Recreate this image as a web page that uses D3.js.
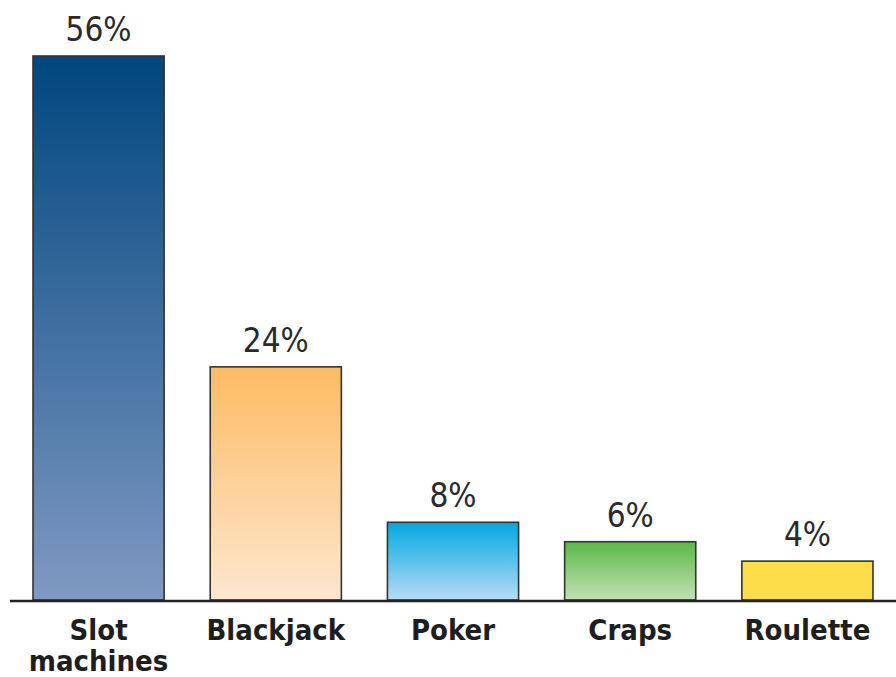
<!DOCTYPE html>
<html>
<head>
<meta charset="utf-8">
<script src="https://cdn.jsdelivr.net/npm/d3@7"></script>
<style>
  html, body { margin: 0; padding: 0; background: #fff; }
  svg { display: block; }
  .val { font-family: "DejaVu Sans", sans-serif; font-stretch: condensed; font-size: 33px; fill: #2a2a2a; }
  .cat { font-family: "DejaVu Sans", sans-serif; font-stretch: condensed; font-size: 29px; font-weight: bold; fill: #1e1e1e; }
</style>
</head>
<body>
<svg id="chart" width="896" height="677"></svg>
<script>
// Share of casino gaming by game
const categories = ["Slot machines", "Blackjack", "Poker", "Craps", "Roulette"];
const shares = [56, 24, 8, 6, 4];
const valueLabels = ["56%", "24%", "8%", "6%", "4%"];
// gradient stops per bar: top colour, bottom colour
const topColors = ["#00467f", "#fdbb63", "#00a8e2", "#5ab847", "#fedd4a"];
const bottomColors = ["#7f99c2", "#fde7cf", "#b7dcf5", "#c2e2b3", "#fedd4a"];

const svg = d3.select("#chart");

const x = d3.scaleBand()
  .domain(categories)
  .range([33, 873])
  .paddingInner(0.26)
  .paddingOuter(0);

const y = d3.scaleLinear()
  .domain([0, 56])
  .range([600, 56]);

const defs = svg.append("defs");
categories.forEach((c, i) => {
  const g = defs.append("linearGradient")
    .attr("id", "grad" + i)
    .attr("x1", 0).attr("y1", 0).attr("x2", 0).attr("y2", 1);
  g.append("stop").attr("offset", "0%").attr("stop-color", topColors[i]);
  g.append("stop").attr("offset", "100%").attr("stop-color", bottomColors[i]);
});

const data = categories.map((c, i) => ({ cat: c, v: shares[i], label: valueLabels[i], i }));

svg.selectAll("rect.bar")
  .data(data)
  .join("rect")
  .attr("class", "bar")
  .attr("x", d => x(d.cat))
  .attr("y", d => y(d.v))
  .attr("width", x.bandwidth())
  .attr("height", d => y(0) - y(d.v))
  .attr("fill", d => `url(#grad${d.i})`)
  .attr("stroke", "#333")
  .attr("stroke-width", 1.6);

// baseline axis
const axis = d3.axisBottom(x).tickSize(0).tickFormat("");
const gAxis = svg.append("g")
  .attr("transform", `translate(0,${y(0) + 1})`)
  .call(axis);
gAxis.select(".domain").remove();
gAxis.append("line")
  .attr("x1", 10).attr("x2", 896)
  .attr("stroke", "#222").attr("stroke-width", 2.5);

// value labels above bars
svg.selectAll("text.val")
  .data(data)
  .join("text")
  .attr("class", "val")
  .attr("text-anchor", "middle")
  .attr("x", d => x(d.cat) + x.bandwidth() / 2)
  .attr("y", d => y(d.v) - 15)
  .text(d => d.label);

// category labels, split into lines
svg.selectAll("text.cat")
  .data(data)
  .join("text")
  .attr("class", "cat")
  .attr("text-anchor", "middle")
  .attr("x", d => x(d.cat) + x.bandwidth() / 2)
  .attr("y", 640)
  .each(function(d) {
    const words = d.cat.split(" ");
    const t = d3.select(this);
    words.forEach((w, k) => {
      t.append("tspan")
        .attr("x", x(d.cat) + x.bandwidth() / 2)
        .attr("dy", k === 0 ? 0 : 31)
        .text(w);
    });
  });
</script>
</body>
</html>
